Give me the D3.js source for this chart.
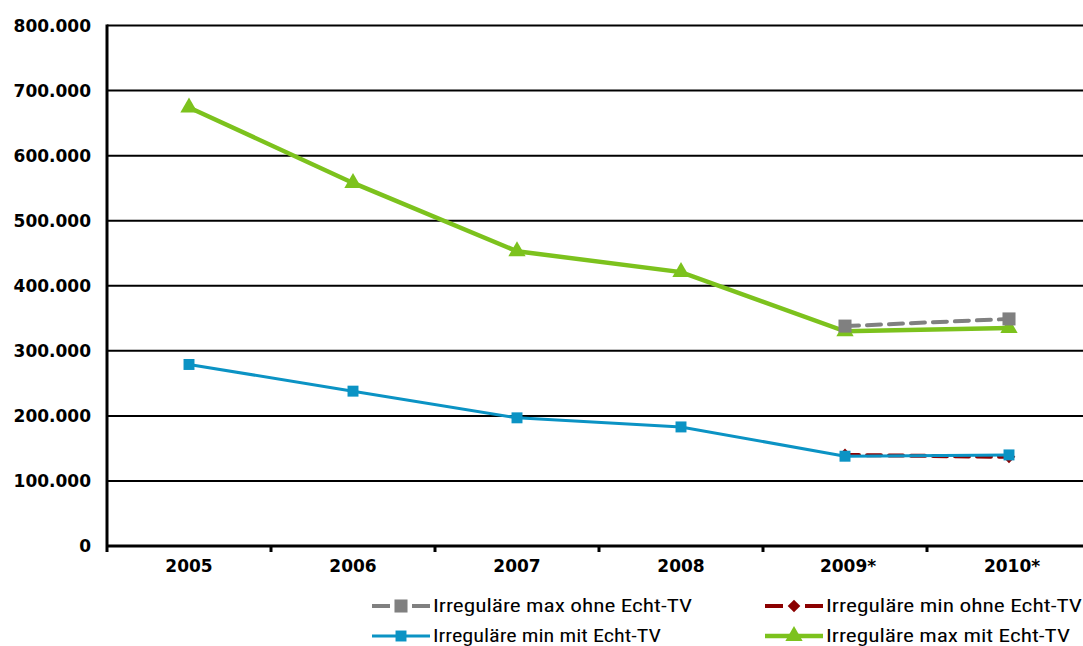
<!DOCTYPE html>
<html>
<head>
<meta charset="utf-8">
<script src="https://cdn.jsdelivr.net/npm/d3@7"></script>
<style>
  body { margin: 0; background: #fff; }
  .tick-label { font-family: "DejaVu Sans", sans-serif; font-weight: bold; font-size: 17px; fill: #000; }
  .legend-text { font-family: "Liberation Sans Narrow", "Roboto Condensed", "Liberation Sans", sans-serif; font-size: 18px; fill: #000; }
</style>
</head>
<body>
<div id="chart"></div>
<script>
const years = ["2005", "2006", "2007", "2008", "2009*", "2010*"];
const yTicks = [0, 100000, 200000, 300000, 400000, 500000, 600000, 700000, 800000];

const maxOhne = [null, null, null, null, 338000, 349000];
const minOhne = [null, null, null, null, 140000, 137000];
const minMit = [279000, 238000, 197000, 183000, 138000, 140000];
const maxMit = [674000, 558000, 453000, 421000, 330000, 335000];

const series = [
    { name: "Irreguläre max ohne Echt-TV", values: maxOhne, color: "#808080", dash: "14,8", width: 4, marker: "square", size: 170, legend: [372, 606], textLen: 259 },
    { name: "Irreguläre min ohne Echt-TV", values: minOhne, color: "#8b0000", dash: "14,8", width: 4, marker: "diamond", size: 80, legend: [765, 606], textLen: 256 },
    { name: "Irreguläre min mit Echt-TV", values: minMit, color: "#0b93c4", dash: null, width: 3, marker: "square", size: 120, legend: [372, 636], textLen: 228 },
    { name: "Irreguläre max mit Echt-TV", values: maxMit, color: "#7cc21d", dash: null, width: 4.5, marker: "triangle", size: 130, legend: [765, 636], textLen: 244 }
];

const W = 1083, H = 646;
const margin = { top: 25.5, left: 107, bottom: 100 };
const plotRight = 107 + 6 * 164;

const svg = d3.select("#chart").append("svg")
    .attr("width", W)
    .attr("height", H);

const x = d3.scaleBand().domain(years).range([margin.left, plotRight]);
const y = d3.scaleLinear().domain([0, 800000]).range([H - margin.bottom, margin.top]);

// gridlines
svg.append("g").selectAll("line")
    .data(yTicks.filter(d => d > 0))
    .enter().append("line")
    .attr("x1", margin.left)
    .attr("x2", plotRight)
    .attr("y1", d => y(d))
    .attr("y2", d => y(d))
    .attr("stroke", "#000")
    .attr("stroke-width", 2);

// y labels
const fmt = d => d === 0 ? "0" : d3.format(",")(d).replace(/,/g, ".");
svg.append("g").selectAll("text")
    .data(yTicks)
    .enter().append("text")
    .attr("class", "tick-label")
    .attr("x", 91)
    .attr("y", d => y(d) + 6)
    .attr("text-anchor", "end")
    .text(fmt);

// x axis
svg.append("line")
    .attr("x1", margin.left).attr("x2", plotRight)
    .attr("y1", y(0)).attr("y2", y(0))
    .attr("stroke", "#000").attr("stroke-width", 3);

svg.append("g").selectAll("line")
    .data(years)
    .enter().append("line")
    .attr("x1", d => x(d) + x.bandwidth())
    .attr("x2", d => x(d) + x.bandwidth())
    .attr("y1", y(0))
    .attr("y2", y(0) + 6)
    .attr("stroke", "#000")
    .attr("stroke-width", 3);

svg.append("g").selectAll("text")
    .data(years)
    .enter().append("text")
    .attr("class", "tick-label")
    .attr("x", d => x(d) + x.bandwidth() / 2 + (d.includes("*") ? 3 : 0))
    .attr("y", y(0) + 26)
    .attr("text-anchor", "middle")
    .text(d => d);

// y axis line
svg.append("line")
    .attr("x1", margin.left).attr("x2", margin.left)
    .attr("y1", margin.top - 1).attr("y2", y(0) + 6)
    .attr("stroke", "#000").attr("stroke-width", 3);

const symbolType = { square: d3.symbolSquare, diamond: d3.symbolSquare, triangle: d3.symbolTriangle };
const markerRot = s => s.marker === "diamond" ? " rotate(45)" : "";

const line = d3.line()
    .defined(d => d.v !== null)
    .x(d => x(d.year) + x.bandwidth() / 2)
    .y(d => y(d.v));

// draw order: green first, then gray on top; blue over red
const drawOrder = [series[1], series[2], series[3], series[0]];
drawOrder.forEach(s => {
    const pts = years.map((yr, i) => ({ year: yr, v: s.values[i] }));
    const g = svg.append("g");
    g.append("path")
        .datum(pts)
        .attr("d", line)
        .attr("fill", "none")
        .attr("stroke", s.color)
        .attr("stroke-width", s.width)
        .attr("stroke-linecap", s.dash ? "round" : "butt")
        .attr("stroke-dasharray", s.dash);
    g.selectAll("path.marker")
        .data(pts.filter(d => d.v !== null))
        .enter().append("path")
        .attr("class", "marker")
        .attr("d", d3.symbol().type(symbolType[s.marker]).size(s.size))
        .attr("transform", d => `translate(${x(d.year) + x.bandwidth() / 2},${y(d.v)})` + markerRot(s))
        .attr("fill", s.color);
});

// legend
series.forEach(s => {
    const [lx, ly] = s.legend;
    const g = svg.append("g").attr("transform", `translate(${lx},${ly})`);
    g.append("line")
        .attr("x1", 0).attr("x2", 58)
        .attr("y1", 0).attr("y2", 0)
        .attr("stroke", s.color)
        .attr("stroke-width", s.width)
        .attr("stroke-dasharray", s.dash ? "18,8,6,8,18" : null);
    g.append("path")
        .attr("d", d3.symbol().type(symbolType[s.marker]).size(s.size))
        .attr("transform", "translate(29,0)" + markerRot(s))
        .attr("fill", s.color);
    g.append("text")
        .attr("class", "legend-text")
        .attr("x", 61)
        .attr("y", 6)
        .attr("textLength", s.textLen)
        .attr("lengthAdjust", "spacingAndGlyphs")
        .text(s.name);
});
</script>
</body>
</html>
